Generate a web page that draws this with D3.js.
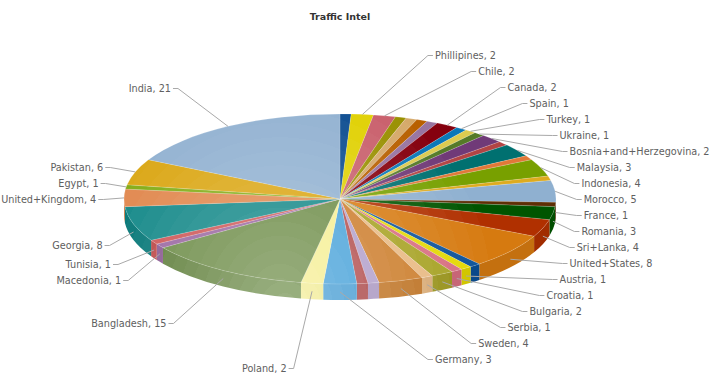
<!DOCTYPE html>
<html>
<head>
<meta charset="utf-8">
<script src="https://cdn.jsdelivr.net/npm/d3@7"></script>
<style>
	html,body{margin:0;padding:0;background:#fff;}
	text{font-family:"DejaVu Sans",Verdana,sans-serif;}
</style>
</head>
<body>
<div id="chart"></div>
<script>
// slices clockwise from 12 o'clock, '' = slice whose label was dropped by the chart
var countries = ['','Phillipines','Chile','','','','','Canada','Spain','Turkey','Ukraine','Bosnia+and+Herzegovina','','Malaysia','','Indonesia','','Morocco','France','Romania','Sri+Lanka','United+States','','Austria','Croatia','Bulgaria','Serbia','Sweden','','','Germany','Poland','Bangladesh','Macedonia','Tunisia','Georgia','United+Kingdom','Egypt','Pakistan','India'];
var visits = [1,2,2,1,1,1,1,2,1,1,1,2,1,3,1,4,1,5,1,3,4,8,1,1,1,2,1,4,1,1,3,2,15,1,1,8,4,1,6,21];
var colors = ['#0a4b8f','#e0d000','#c95f6b','#999000','#d5a96a','#b86000','#9874a0','#85000e','#0a78b8','#dccb50','#557a28','#703a78','#b24444','#007070','#e07838','#78a000','#deab1e','#8fb0d0','#5e2e05','#005500','#b03000','#d67a10','#0a5098','#e4d800','#d76b7e','#a5a020','#e8b880','#cb7b28','#b09cc8','#b04848','#44a0d8','#f5ee90','#6a8a44','#96629e','#cc5050','#0e8585','#e0854a','#80aa10','#daa510','#90b0d0'];

// y of the left hand labels, the right hand column just steps down
var leftLabelY = {'Poland':368,'Bangladesh':323,'Macedonia':280,'Tunisia':264,'Georgia':245,'United+Kingdom':199,'Egypt':183,'Pakistan':167,'India':88};

var w = 713, h = 383;
var cx = 340, cy = 199, rx = 216, ry = 85, depth = 16;

var svg = d3.select('#chart').append('svg')
	.attr('width',w)
	.attr('height',h)
	.style('display','block');

var defs = svg.append('defs');

// banded radial gradient, the original has visible steps
function gradient(id,inner,outer,gx,gy,r){
	var g = defs.append('radialGradient')
		.attr('id',id)
		.attr('gradientUnits','userSpaceOnUse')
		.attr('cx',gx).attr('cy',gy).attr('r',r);
	var bands = 16;
	var mix = d3.interpolateRgb(inner,outer);
	d3.range(bands).forEach(function(i){
		g.append('stop').attr('offset',i/bands).attr('stop-color',mix(i/(bands-1)));
		g.append('stop').attr('offset',(i+1)/bands).attr('stop-color',mix(i/(bands-1)));
	});
}

colors.forEach(function(c,i){
	gradient('top'+i,d3.interpolateRgb(c,'#fff')(0.3),c,280,292,225);
	gradient('side'+i,d3.interpolateRgb(c,'#fff')(0.33),d3.rgb(c).darker(0.25),285,305,190);
});

var pie = d3.pie().sort(null).value(function(d){return d;});
var slices = pie(visits);

// angle is clockwise from the top, like d3.pie gives it
function ex(a){return cx+rx*Math.sin(a);}
function ey(a){return cy-ry*Math.cos(a);}

function topPath(d){
	var large = d.endAngle-d.startAngle>Math.PI?1:0;
	return 'M'+cx+','+cy+'L'+ex(d.startAngle)+','+ey(d.startAngle)+
		'A'+rx+','+ry+' 0 '+large+' 1 '+ex(d.endAngle)+','+ey(d.endAngle)+'Z';
}

function sidePath(d){
	var a0 = Math.max(d.startAngle,Math.PI/2), a1 = Math.min(d.endAngle,Math.PI*1.5);
	if(a1<=a0) return null;
	return 'M'+ex(a0)+','+ey(a0)+
		'A'+rx+','+ry+' 0 0 1 '+ex(a1)+','+ey(a1)+
		'L'+ex(a1)+','+(ey(a1)+depth)+
		'A'+rx+','+ry+' 0 0 0 '+ex(a0)+','+(ey(a0)+depth)+'Z';
}

svg.append('g').selectAll('path')
	.data(slices)
	.enter()
	.append('path')
	.attr('d',sidePath)
	.attr('fill',function(d,i){return 'url(#side'+i+')';});

svg.append('g').selectAll('path')
	.data(slices)
	.enter()
	.append('path')
	.attr('d',topPath)
	.attr('fill',function(d,i){return 'url(#top'+i+')';})
	.attr('stroke','#fff')
	.attr('stroke-opacity',0.3)
	.attr('stroke-width',0.5);

// labels sit on a bigger ellipse
var labelR = 244, labelRy = 165, labelCy = 207;
function labelX(y,side){
	var t = (y-labelCy)/labelRy;
	return cx+side*labelR*Math.sqrt(Math.max(0,1-t*t));
}

var rightIndex = 0;
var labels = slices.map(function(d,i){
	return {name:countries[i],value:visits[i],angle:(d.startAngle+d.endAngle)/2};
}).filter(function(d){return d.name!='';});

labels.forEach(function(d){
	d.side = d.name in leftLabelY ? -1 : 1;
	d.y = d.side<0 ? leftLabelY[d.name] : 55+16*(rightIndex++);
	d.x = labelX(d.y,d.side);
});

var line = d3.line();
var lab = svg.append('g').selectAll('g')
	.data(labels)
	.enter()
	.append('g');

lab.append('path')
	.attr('fill','none')
	.attr('stroke','#a9a9a9')
	.attr('stroke-width',1)
	.attr('d',function(d){
		var a = d.angle;
		var low = Math.cos(a)<0 ? depth/2 : 0;
		return line([
			[ex(a),ey(a)+low],
			[d.x-d.side*7,d.y+0.5],
			[d.x-d.side*2,d.y+0.5]
		]);
	});

lab.append('text')
	.attr('x',function(d){return d.x;})
	.attr('y',function(d){return d.y+3.5;})
	.attr('text-anchor',function(d){return d.side<0?'end':'start';})
	.attr('font-size','9.7px')
	.attr('fill','#606060')
	.text(function(d){return d.name+', '+d.value;});

svg.append('text')
	.attr('x',340)
	.attr('y',20)
	.attr('text-anchor','middle')
	.attr('font-size','9.5px')
	.attr('font-weight','bold')
	.attr('fill','#333')
	.text('Traffic Intel');
</script>
</body>
</html>
